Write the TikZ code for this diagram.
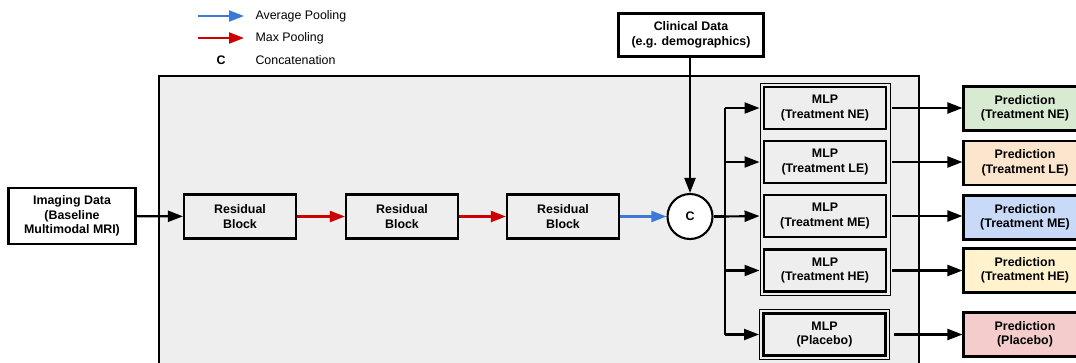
\documentclass[tikz,border=0pt]{standalone}
\usepackage{fontspec}
\setmainfont{Liberation Sans}
\usetikzlibrary{arrows.meta,fit}
\definecolor{bggray}{HTML}{EEEEEE}
\definecolor{pgreen}{HTML}{D9EAD3}
\definecolor{porange}{HTML}{FCE5CD}
\definecolor{pblue}{HTML}{C9DAF8}
\definecolor{pyellow}{HTML}{FFF2CC}
\definecolor{pred}{HTML}{F4CCCC}
\definecolor{avgblue}{HTML}{3C78D8}
\definecolor{maxred}{HTML}{CC0000}
\begin{document}
\begin{tikzpicture}[x=1pt,y=-1pt,
  font=\fontsize{12.4}{14.5}\selectfont\bfseries,
  box/.style={draw, line width=2.1pt, align=center, inner sep=0pt, fill=bggray, minimum height=44pt},
  mlpbox/.style={box, line width=2.8pt, minimum width=122pt, minimum height=42pt},
  predbox/.style={box, minimum width=123pt, minimum height=44pt},
  grp/.style={draw, line width=0.9pt, inner sep=2.6pt},
  arr/.style={line width=2.1pt, -{Triangle[length=15pt,width=11pt]}},
  legtext/.style={anchor=west, font=\fontsize{12.4}{14.5}\selectfont}
]
\clip (0,0) rectangle (1076,362);
% background panel
\draw[line width=1.7pt, fill=bggray] (159,76) rectangle (919,380);

% legend
\coordinate (la1) at (198,16); \coordinate (lb1) at (244,16);
\coordinate (la2) at (198,38); \coordinate (lb2) at (244,38);
\draw[arr, avgblue] (la1) -- (lb1);
\draw[arr, maxred] (la2) -- (lb2);
\node[legtext] (lt1) at (252,16) {Average Pooling};
\node[legtext] (lt2) at (252,38) {Max Pooling};
\node (lc) at (221,60) {C};
\node[legtext] (lt3) at (252,60) {Concatenation};

% main chain
\node[box, fill=white, minimum width=127pt, minimum height=56pt] (img) at (72,216) {Imaging Data\\(Baseline\\Multimodal MRI)};
\node[box, minimum width=112pt] (rb1) at (240,216.5) {Residual\\Block};
\node[box, minimum width=112pt] (rb2) at (402,216.5) {Residual\\Block};
\node[box, minimum width=112pt] (rb3) at (563,216.5) {Residual\\Block};
\node[draw, circle, line width=2.1pt, fill=white, minimum size=45pt, inner sep=0pt] (cat) at (690,216.5) {C};
\node[box, fill=white, minimum width=145pt, minimum height=43pt] (clin) at (691,35) {Clinical Data\\(e.g. demographics)};

\draw[arr] (img) -- (rb1);
\draw[arr, maxred] (rb1) -- (rb2);
\draw[arr, maxred] (rb2) -- (rb3);
\draw[arr, avgblue] (rb3) -- (cat);
\draw[arr] (cat |- clin.south) -- (cat);

% MLP heads
\node[mlpbox] (mNE) at (825,108) {MLP\\(Treatment NE)};
\node[mlpbox] (mLE) at (825,162) {MLP\\(Treatment LE)};
\node[mlpbox] (mME) at (825,216) {MLP\\(Treatment ME)};
\node[mlpbox] (mHE) at (825,270.5) {MLP\\(Treatment HE)};
\node[mlpbox] (mPL) at (824.5,334.5) {MLP\\(Placebo)};
\node[grp, fit=(mNE)(mHE)] (g1) {};
\node[grp, fit=(mPL)] (g2) {};

% branching
\coordinate (j) at (725,216.5);
\draw[line width=2.1pt] (cat) -- (j);
\draw[line width=2.1pt] (j |- mNE) -- (j |- mPL);
\draw[arr] (j |- mNE) -- (g1.west |- mNE);
\draw[arr] (j |- mLE) -- (g1.west |- mLE);
\draw[arr] (j) -- (g1.west |- mME);
\draw[arr] (j |- mHE) -- (g1.west |- mHE);
\draw[arr] (j |- mPL) -- (g2.west |- mPL);

% predictions
\node[predbox, fill=pgreen] (pNE) at (1025,108.5) {Prediction\\(Treatment NE)};
\node[predbox, fill=porange] (pLE) at (1025,163) {Prediction\\(Treatment LE)};
\node[predbox, fill=pblue] (pME) at (1025,217.5) {Prediction\\(Treatment ME)};
\node[predbox, fill=pyellow] (pHE) at (1025,270.5) {Prediction\\(Treatment HE)};
\node[predbox, fill=pred] (pPL) at (1025,334.5) {Prediction\\(Placebo)};

\draw[arr] ([xshift=2pt]g1.east |- mNE) -- (pNE.west |- mNE);
\draw[arr] ([xshift=2pt]g1.east |- mLE) -- (pLE.west |- mLE);
\draw[arr] ([xshift=2pt]g1.east |- mME) -- (pME.west |- mME);
\draw[arr] ([xshift=2pt]g1.east |- mHE) -- (pHE.west |- mHE);
\draw[arr] ([xshift=4pt]g2.east |- mPL) -- (pPL.west |- mPL);
\end{tikzpicture}
\end{document}
